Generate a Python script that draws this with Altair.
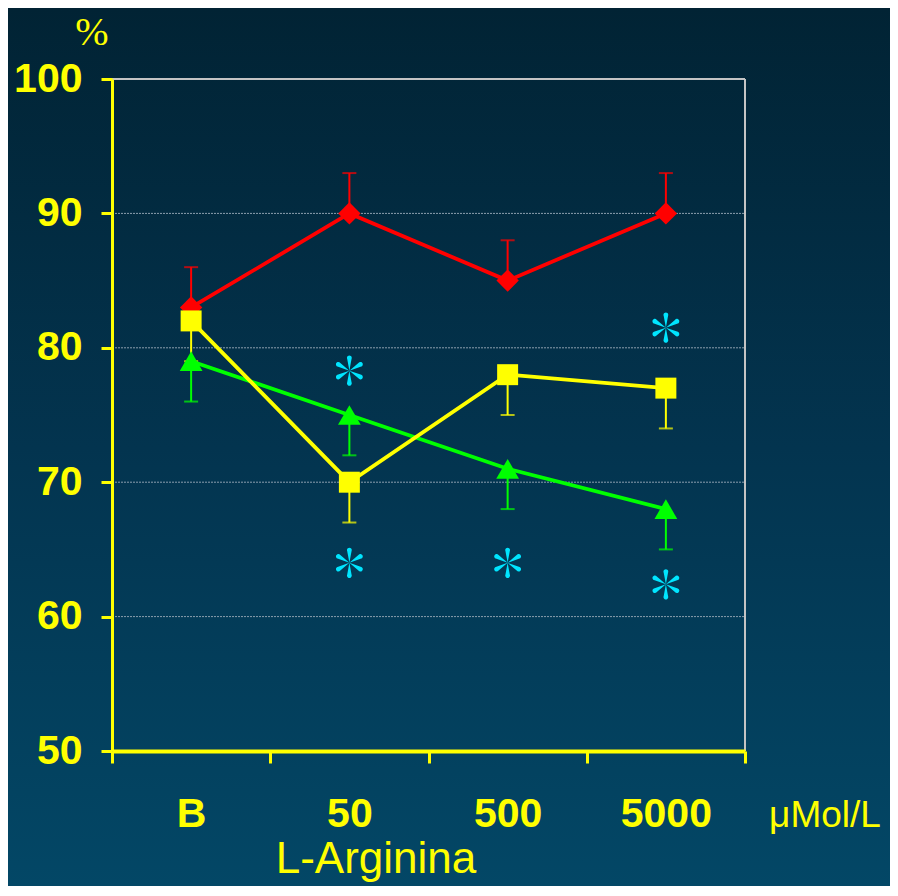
import math
import altair as alt
import pandas as pd

categories = ["B", "50", "500", "5000"]
red_vals = [83, 90, 85, 90]
red_err_hi = [86, 93, 88, 93]
yellow_vals = [82, 70, 78, 77]
yellow_err_lo = [79, 67, 75, 74]
green_vals = [79, 75, 71, 68]
green_err_lo = [76, 72, 68, 65]
star_cats = ["50", "50", "500", "5000", "5000"]
star_vals = [78.3, 64.0, 64.0, 81.5, 62.4]
grid_vals = [60, 70, 80, 90]
y_ticks = [50, 60, 70, 80, 90, 100]

W, H = 633, 672
PL, PT = 104, 71
SVG_W, SVG_H = 882, 878

YEL = "#ffff00"
RED = "#ff0000"
GRN = "#00ff00"
CYAN = "#00e5ff"
FONT = "Liberation Sans"

xscale = alt.Scale(domain=categories, paddingInner=0, paddingOuter=0)
yscale = alt.Scale(domain=[50, 100], nice=False, zero=False)

def series_df(vals, err):
    return pd.DataFrame({"cat": categories, "v": vals, "e": err})

red_df = series_df(red_vals, red_err_hi)
yel_df = series_df(yellow_vals, yellow_err_lo)
grn_df = series_df(green_vals, green_err_lo)

X = alt.X("cat:N", scale=xscale, sort=categories,
          axis=alt.Axis(title=None, labelAngle=0, tickBand="extent", zindex=2,
                        domainColor=YEL, domainWidth=4, tickColor=YEL,
                        tickWidth=3, tickSize=12, labelColor=YEL,
                        labelFont=FONT, labelFontWeight="bold",
                        labelFontSize=41, labelPadding=31, grid=False))
Y = alt.Y("v:Q", scale=yscale,
          axis=alt.Axis(title=None, values=y_ticks, zindex=2,
                        domainColor=YEL, domainWidth=3, tickColor=YEL,
                        tickWidth=3, tickSize=11, labelColor=YEL,
                        labelFont=FONT, labelFontWeight="bold",
                        labelFontSize=41, labelPadding=19, grid=False))

# background gradient
bg = alt.Chart(pd.DataFrame({"a": [0]})).mark_rect(
    clip=False,
    fill=alt.LinearGradient(
        gradient="linear", x1=0, y1=0, x2=0, y2=1,
        stops=[alt.GradientStop(color="#012334", offset=0),
               alt.GradientStop(color="#03344f", offset=0.5),
               alt.GradientStop(color="#034766", offset=1)])
).encode(x=alt.value(-PL), x2=alt.value(SVG_W - PL),
         y=alt.value(-PT), y2=alt.value(SVG_H - PT))

# grid lines and borders
grid = alt.Chart(pd.DataFrame({"g": grid_vals})).mark_rule(
    color="#8c9fae", strokeWidth=1, strokeDash=[2, 1]
).encode(y=alt.Y("g:Q", scale=yscale), x=alt.value(0), x2=alt.value(W))
top_border = alt.Chart(pd.DataFrame({"g": [100]})).mark_rule(
    color="#c4c4c4", strokeWidth=2
).encode(y=alt.Y("g:Q", scale=yscale), x=alt.value(0), x2=alt.value(W))
right_border = alt.Chart(pd.DataFrame({"a": [0]})).mark_rule(
    color="#c4c4c4", strokeWidth=2
).encode(x=alt.value(W), y=alt.value(0), y2=alt.value(H))

def errbars(df, color):
    base = alt.Chart(df)
    rule = base.mark_rule(color=color, strokeWidth=2).encode(
        x=alt.X("cat:N", scale=xscale, sort=categories), y=alt.Y("v:Q", scale=yscale), y2="e:Q")
    cap = base.mark_tick(color=color, thickness=2, size=14, orient="horizontal").encode(
        x=alt.X("cat:N", scale=xscale, sort=categories), y=alt.Y("e:Q", scale=yscale))
    return rule + cap

def series(df, color, shape, size):
    base = alt.Chart(df)
    line = base.mark_line(color=color, strokeWidth=3.8).encode(
        x=alt.X("cat:N", scale=xscale, sort=categories), y=alt.Y("v:Q", scale=yscale))
    pts = base.mark_point(color=color, fill=color, filled=True, opacity=1,
                          shape=shape, size=size).encode(
        x=alt.X("cat:N", scale=xscale, sort=categories), y=alt.Y("v:Q", scale=yscale))
    return line + pts

# axes holder
axes = alt.Chart(red_df).mark_point(opacity=0).encode(x=X, y=Y)

# asterisk shape (six teardrop spokes)
def petal(angle):
    r_end, w = 0.78, 0.16
    ca, sa = math.cos(angle), math.sin(angle)
    def rot(px, py):
        return (px * ca - py * sa, px * sa + py * ca)
    p1 = rot(-w * 0.9, -r_end)
    p2 = rot(w * 0.9, -r_end)
    return (f"M0,0L{p1[0]:.3f},{p1[1]:.3f}"
            f"A{w:.3f},{w:.3f} 0 1 1 {p2[0]:.3f},{p2[1]:.3f}Z")

star_path = "".join(petal(math.radians(a)) for a in range(0, 360, 60))
stars_df = pd.DataFrame({"cat": star_cats, "v": star_vals})
stars = alt.Chart(stars_df).mark_point(
    shape=star_path, filled=True, fill=CYAN, color=CYAN, opacity=1, size=900, strokeWidth=0
).encode(x=alt.X("cat:N", scale=xscale, sort=categories), y=alt.Y("v:Q", scale=yscale))

# annotations
texts_df = pd.DataFrame({"a": [0]})
pct = alt.Chart(texts_df).mark_text(
    text="%", font="Liberation Serif", fontSize=40, color=YEL, align="center",
    baseline="middle", clip=False
).encode(x=alt.value(-20), y=alt.value(-46))
unit = alt.Chart(texts_df).mark_text(
    text="μMol/L", font=FONT, fontSize=37, color=YEL, align="center",
    baseline="middle", clip=False
).encode(x=alt.value(713), y=alt.value(737))
xtitle = alt.Chart(texts_df).mark_text(
    text="L-Arginina", font=FONT, fontSize=44, color=YEL, align="center",
    baseline="middle", clip=False
).encode(x=alt.value(264), y=alt.value(781))

chart = alt.layer(
    bg, grid, top_border, right_border, axes,
    errbars(red_df, RED), errbars(yel_df, YEL), errbars(grn_df, GRN),
    series(red_df, RED, "diamond", 500),
    series(grn_df, GRN, "triangle-up", 520),
    series(yel_df, YEL, "square", 440),
    stars, pct, unit, xtitle
).properties(
    width=W, height=H,
    autosize=alt.AutoSizeParams(type="none"),
    padding={"left": PL, "top": PT, "right": SVG_W - PL - W, "bottom": SVG_H - PT - H},
).configure(background="#034766").configure_view(stroke=None)

chart.save("out.html", embed_options={"renderer": "svg", "actions": False})
